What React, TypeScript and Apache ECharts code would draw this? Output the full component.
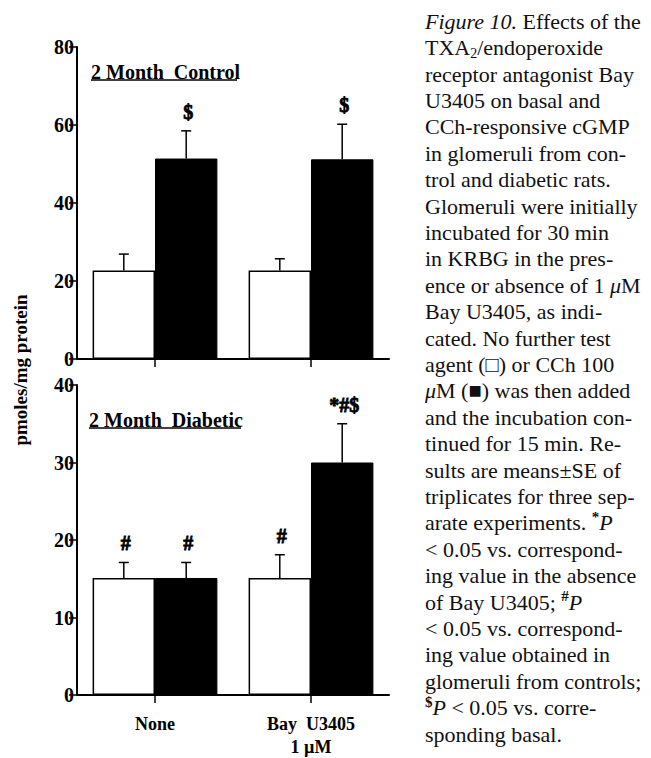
import React, { useEffect, useRef } from "react";
import * as echarts from "echarts";

// Treatment groups on the x axis
const categories = ["None", "Bay  U3405\n1 µM"];

// 2 month control: cGMP (pmoles/mg protein), mean and SE
const controlBasal = [22.7, 22.7];
const controlBasalSE = [4.2, 3.0];
const controlCCh = [51.4, 51.2];
const controlCChSE = [7.1, 9.0];

// 2 month diabetic
const diabeticBasal = [15.1, 15.1];
const diabeticBasalSE = [2.0, 3.0];
const diabeticCCh = [15.1, 30.0];
const diabeticCChSE = [2.0, 5.0];

// Significance marks above each bar
const controlBasalMarks = ["", ""];
const controlCChMarks = ["$", "$"];
const diabeticBasalMarks = ["#", "#"];
const diabeticCChMarks = ["#", "*#$"];

// Y tick values for each panel
const controlTicks = [0, 20, 40, 60, 80];
const diabeticTicks = [0, 10, 20, 30, 40];

const panelTitles = ["2 Month  Control", "2 Month  Diabetic"];
const yAxisTitle = "pmoles/mg protein";

// Figure legend, one entry per printed line (rich-text markup)
const captionLines = [
  "{it|Figure 10.} Effects of the",
  "TXA{sub|2}/endoperoxide",
  "receptor antagonist Bay",
  "U3405 on basal and",
  "CCh-responsive cGMP",
  "in glomeruli from con-",
  "trol and diabetic rats.",
  "Glomeruli were initially",
  "incubated for 30 min",
  "in KRBG in the pres-",
  "ence or absence of 1 {it|μ}M",
  "Bay U3405, as indi-",
  "cated. No further test",
  "agent (□) or CCh 100",
  "{it|μ}M (■) was then added",
  "and the incubation con-",
  "tinued for 15 min. Re-",
  "sults are means±SE of",
  "triplicates for three sep-",
  "arate experiments. {sup|*}{it|P}",
  "< 0.05 vs. correspond-",
  "ing value in the absence",
  "of Bay U3405; {sup|#}{it|P}",
  "< 0.05 vs. correspond-",
  "ing value obtained in",
  "glomeruli from controls;",
  "{sup|$}{it|P} < 0.05 vs. corre-",
  "sponding basal.",
];

const SERIF = "'Liberation Serif', 'Times New Roman', serif";

function yAxisFor(ticks: number[], gridIndex: number) {
  return {
    type: "value",
    gridIndex,
    min: ticks[0],
    max: ticks[ticks.length - 1],
    interval: ticks[1] - ticks[0],
    splitLine: { show: false },
    axisLine: { show: true, lineStyle: { color: "#000", width: 2 } },
    axisTick: { show: true, inside: false, length: 8, lineStyle: { color: "#000", width: 1.5 } },
    axisLabel: {
      color: "#000",
      fontFamily: SERIF,
      fontWeight: "bold",
      fontSize: 20,
      margin: 3,
    },
  };
}

function xAxisFor(gridIndex: number, showLabels: boolean) {
  return {
    type: "category",
    gridIndex,
    data: categories,
    boundaryGap: true,
    axisLine: { show: true, lineStyle: { color: "#000", width: 2 } },
    axisTick: { show: true, alignWithLabel: true, length: 8, lineStyle: { color: "#000", width: 1.5 } },
    axisLabel: {
      show: showLabels,
      color: "#000",
      fontFamily: SERIF,
      fontWeight: "bold",
      fontSize: 18,
      lineHeight: 23,
      margin: 17,
    },
  };
}

function barSeries(values: number[], gridIndex: number, filled: boolean) {
  return {
    type: "bar",
    xAxisIndex: gridIndex,
    yAxisIndex: gridIndex,
    data: values,
    barGap: "0%",
    barCategoryGap: "20%",
    itemStyle: filled
      ? { color: "#000", borderColor: "#000", borderWidth: 1 }
      : { color: "#fff", borderColor: "#000", borderWidth: 1.5 },
    z: 2,
  };
}

// Error bar (upper whisker with cap) plus significance mark, centred on the bar
function errorSeries(means: number[], ses: number[], marks: string[], side: number, gridIndex: number) {
  return {
    type: "custom",
    xAxisIndex: gridIndex,
    yAxisIndex: gridIndex,
    z: 5,
    data: means.map((m, i) => [i, m, m + ses[i]]),
    encode: { x: 0, y: [1, 2] },
    renderItem: (params: any, api: any) => {
      const i = api.value(0);
      const base = api.coord([i, api.value(1)]);
      const tip = api.coord([i, api.value(2)]);
      const band = api.size([1, 0])[0];
      const x = base[0] + side * 0.2 * band;
      const cap = 5;
      const stroke = { stroke: "#000", lineWidth: 1.5 };
      const children: any[] = [
        { type: "line", shape: { x1: x, y1: base[1], x2: x, y2: tip[1] }, style: stroke },
        { type: "line", shape: { x1: x - cap, y1: tip[1], x2: x + cap, y2: tip[1] }, style: stroke },
      ];
      const mark = marks[params.dataIndex];
      if (mark) {
        children.push({
          type: "text",
          x: x + 2,
          y: tip[1] - 19,
          style: {
            text: mark,
            fontFamily: SERIF,
            fontWeight: "bold",
            fontSize: 20,
            fill: "#000",
            stroke: "#000",
            lineWidth: 0.8,
            align: "center",
            verticalAlign: "middle",
          },
        });
      }
      return { type: "group", children };
    },
  };
}

function panelTitle(text: string, x: number, y: number, underlineWidth: number) {
  return [
    {
      type: "text",
      x,
      y,
      style: {
        text,
        fontFamily: SERIF,
        fontWeight: "bold",
        fontSize: 20,
        fill: "#000",
        align: "left",
        verticalAlign: "middle",
      },
    },
    {
      type: "line",
      shape: { x1: x, y1: y + 8, x2: x + underlineWidth, y2: y + 8 },
      style: { stroke: "#000", lineWidth: 1.5 },
    },
  ];
}

export default function App() {
  const ref = useRef<HTMLDivElement>(null);

  useEffect(() => {
    if (!ref.current) return;
    const chart = echarts.init(ref.current, null, { renderer: "svg" });

    const option = {
      animation: false,
      backgroundColor: "#fff",
      grid: [
        { left: 77, top: 47, width: 312, height: 312 },
        { left: 77, top: 385, width: 312, height: 319 },
      ],
      xAxis: [xAxisFor(0, false), xAxisFor(1, true)],
      yAxis: [yAxisFor(controlTicks, 0), yAxisFor(diabeticTicks, 1)],
      series: [
        barSeries(controlBasal, 0, false),
        barSeries(controlCCh, 0, true),
        barSeries(diabeticBasal, 1, false),
        barSeries(diabeticCCh, 1, true),
        errorSeries(controlBasal, controlBasalSE, controlBasalMarks, -1, 0),
        errorSeries(controlCCh, controlCChSE, controlCChMarks, 1, 0),
        errorSeries(diabeticBasal, diabeticBasalSE, diabeticBasalMarks, -1, 1),
        errorSeries(diabeticCCh, diabeticCChSE, diabeticCChMarks, 1, 1),
      ],
      graphic: [
        ...panelTitle(panelTitles[0], 91, 72, 146),
        ...panelTitle(panelTitles[1], 89, 420, 152),
        {
          type: "text",
          x: 20,
          y: 370,
          rotation: Math.PI / 2,
          style: {
            text: yAxisTitle,
            fontFamily: SERIF,
            fontWeight: "bold",
            fontSize: 19,
            fill: "#000",
            align: "center",
            verticalAlign: "middle",
          },
        },
        {
          type: "text",
          x: 425,
          y: 8,
          style: {
            text: captionLines.join("\n"),
            fontFamily: SERIF,
            fontSize: 22,
            lineHeight: 26.4,
            fill: "#111",
            align: "left",
            verticalAlign: "top",
            rich: {
              it: { fontFamily: SERIF, fontStyle: "italic", fontSize: 22, lineHeight: 26.4, fill: "#111" },
              sub: { fontFamily: SERIF, fontSize: 14, lineHeight: 16, verticalAlign: "bottom", fill: "#111" },
              sup: { fontFamily: SERIF, fontWeight: "bold", fontSize: 15, lineHeight: 14, verticalAlign: "top", fill: "#111" },
            },
          },
        },
      ],
    };

    chart.setOption(option as any);
    return () => chart.dispose();
  }, []);

  return (
    <div
      ref={ref}
      style={{ position: "absolute", left: 0, top: 0, width: 651, height: 758, background: "#fff" }}
    />
  );
}
